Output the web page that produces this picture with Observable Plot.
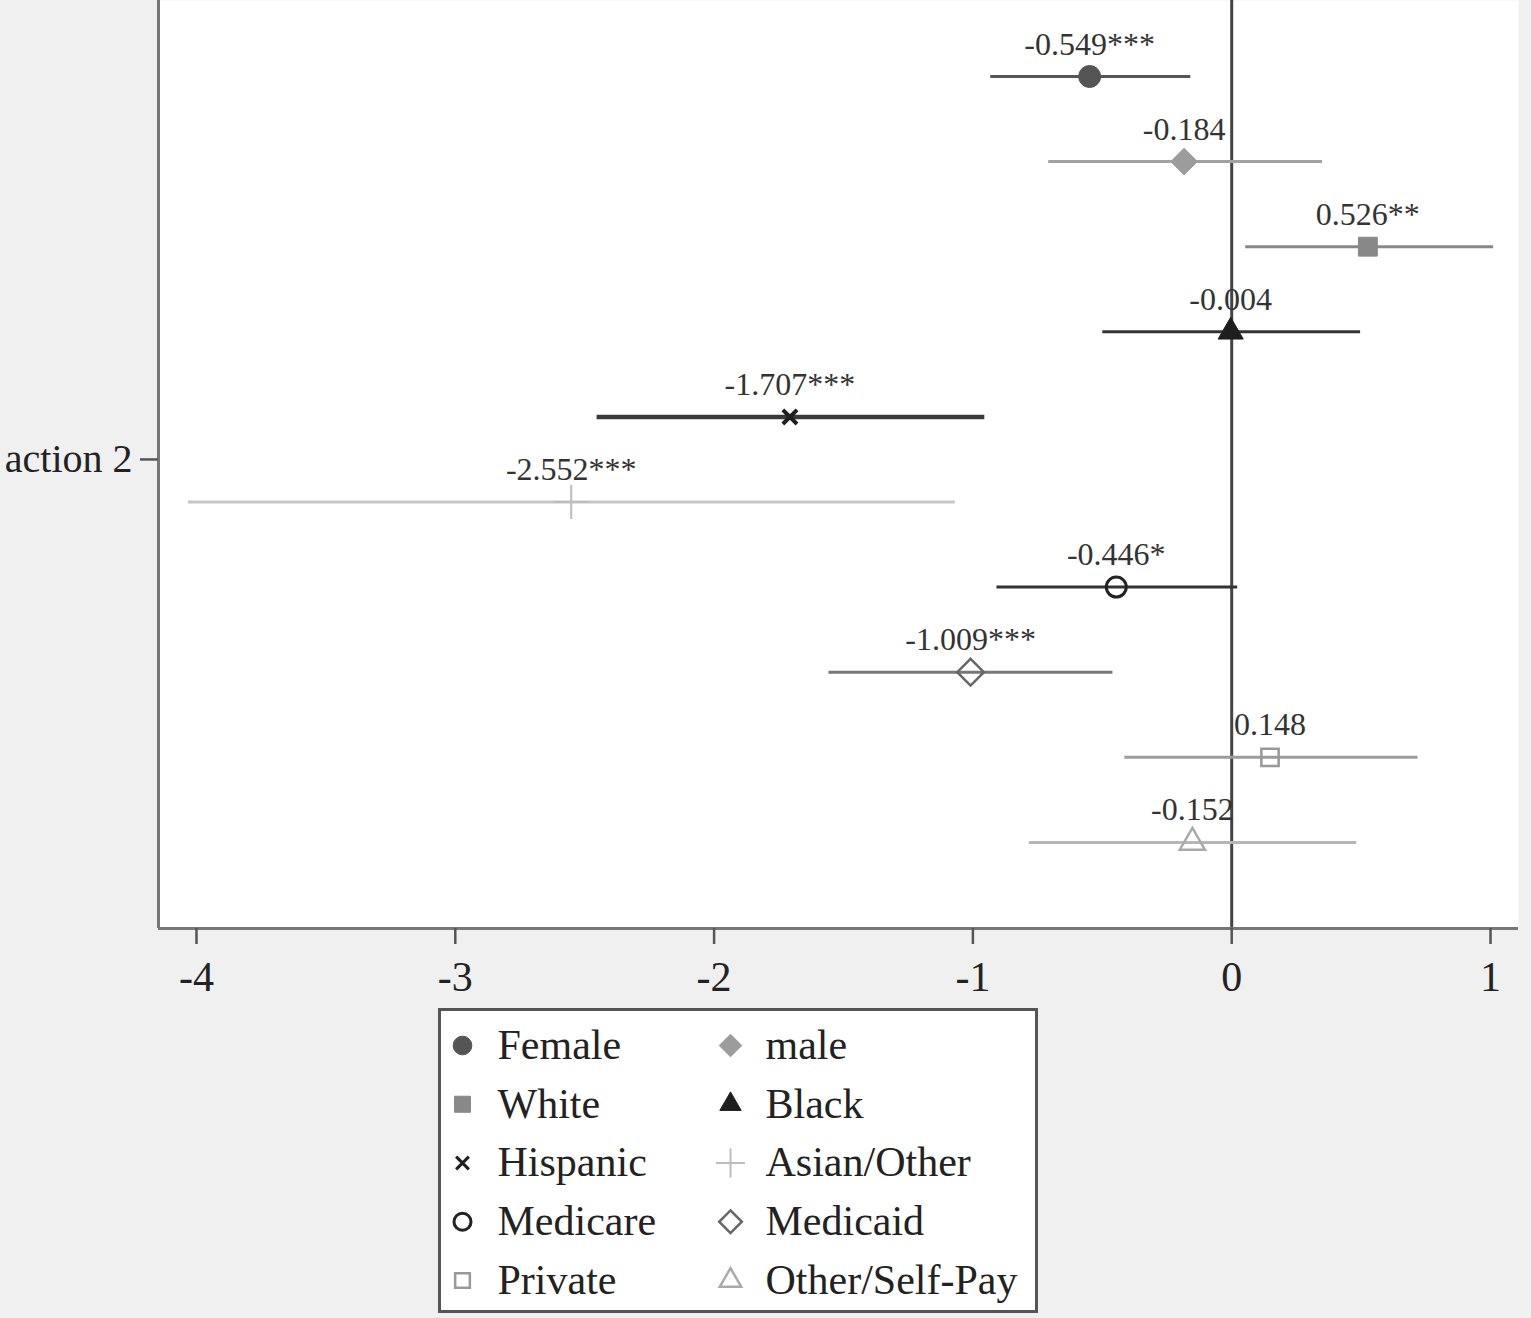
<!DOCTYPE html>
<html>
<head>
<meta charset="utf-8">
<script src="https://cdn.jsdelivr.net/npm/d3@7"></script>
<script src="https://cdn.jsdelivr.net/npm/@observablehq/plot@0.6"></script>
<style>
  html, body { margin: 0; padding: 0; background: #f0f0f0; }
  #wrap { position: relative; width: 1531px; height: 1318px; overflow: hidden; background: #f0f0f0; }
  #chart { position: absolute; left: 0; top: 0; }
  #legend { position: absolute; left: 438px; top: 1008px; width: 600px; height: 305px;
            box-sizing: border-box; border: 3px solid #555; background: #fff; }
  svg { overflow: visible; }
</style>
</head>
<body>
<div id="wrap">
  <div id="chart"></div>
  <div id="legend"></div>
</div>
<script>
// ---- data ----
const labels = ["Female", "male", "White", "Black", "Hispanic", "Asian/Other", "Medicare", "Medicaid", "Private", "Other/Self-Pay"];
const coef   = [-0.549, -0.184, 0.526, -0.004, -1.707, -2.552, -0.446, -1.009, 0.148, -0.152];
const stars  = ["***", "", "**", "", "***", "***", "*", "***", "", ""];
const lo     = [-0.931, -0.707, 0.054, -0.498, -2.452, -4.031, -0.907, -1.556, -0.413, -0.782];
const hi     = [-0.158, 0.351, 1.012, 0.498, -0.954, -1.068, 0.023, -0.459, 0.720, 0.483];
const xTicks = [-4, -3, -2, -1, 0, 1];
const yTickLabel = "action 2"; // as visible in the (cropped) reference

// ---- styles per series ----
const symbols    = ["circle", "diamond2", "square2", "triangle2", "times", "plus", "circle", "diamond2", "square2", "triangle2"];
const fills      = ["#555", "#9c9c9c", "#888", "#1e1e1e", "none", "none", "none", "none", "none", "none"];
const strokes    = ["#555", "#9c9c9c", "#888", "#1e1e1e", "#1e1e1e", "#bdbdbd", "#222", "#666", "#999", "#aaa"];
const dotWidths  = [1, 1, 1, 1, 4, 2, 3, 2.5, 2.5, 2.5];
const sizes      = [11, 12, 12, 12, 6.5, 11, 10, 12, 11, 12];
const lineColors = ["#555", "#a2a2a2", "#888", "#333", "#3a3a3a", "#c6c6c6", "#333", "#777", "#9c9c9c", "#b6b6b6"];
const lineWidths = [3, 3, 3, 3, 4.5, 3, 3, 3, 3, 3];

const rows = labels.map((name, i) => ({
  name, row: i, col: i % 2, lrow: Math.floor(i / 2),
  coef: coef[i], lo: lo[i], hi: hi[i],
  label: coef[i].toFixed(3) + stars[i],
  sym: symbols[i], fill: fills[i], stroke: strokes[i], sw: dotWidths[i],
  size: sizes[i], lsize: sizes[i] * (symbols[i] === "times" ? 0.9 : 0.85),
  lc: lineColors[i], lw: lineWidths[i]
}));

const W = 1531, H = 1005;
const xMin = -4 - 38 / 259, xMax = 1 + 28 / 259;
const yTop = -76 / 85.1, yBottom = (928 - 76) / 85.1;

const chart = Plot.plot({
  width: W, height: H,
  marginLeft: 158, marginRight: 13, marginTop: 0, marginBottom: H - 928,
  style: { fontFamily: "'Liberation Serif', 'Times New Roman', serif", background: "transparent", color: "#222" },
  x: { domain: [xMin, xMax], label: null },
  y: { domain: [yTop, yBottom], range: [0, 928], label: null },
  r: { type: "identity" },
  marks: [
    Plot.frame({ fill: "white", stroke: null }),
    Plot.ruleX([0], { stroke: "#444", strokeWidth: 3 }),
    Plot.ruleY(rows, { y: "row", x1: "lo", x2: "hi", stroke: "lc", strokeWidth: "lw" }),
    Plot.dot(rows, { x: "coef", y: "row", symbol: "sym", r: "size", fill: "fill", stroke: "stroke", strokeWidth: "sw" }),
    Plot.text(rows, { x: "coef", y: "row", text: "label", dy: -22, lineAnchor: "bottom", fontSize: 32, fill: "#333" }),
    Plot.ruleX([xMin], { stroke: "#777", strokeWidth: 3 }),
    Plot.ruleY([yBottom], { stroke: "#777", strokeWidth: 3 }),
    Plot.axisX({ ticks: xTicks, tickFormat: d => String(d), label: null, fontSize: 42, tickSize: 16, tickPadding: 17, stroke: "#555", strokeWidth: 2.5 }),
    Plot.axisY({ ticks: [4.5], tickFormat: () => yTickLabel, label: null, fontSize: 40, tickSize: 18, tickPadding: 8, stroke: "#555", strokeWidth: 2.5 })
  ]
});
document.getElementById("chart").appendChild(chart);

// ---- legend ----
const legend = Plot.plot({
  width: 594, height: 299,
  margin: 0,
  style: { fontFamily: "'Liberation Serif', 'Times New Roman', serif", background: "white", color: "#222" },
  x: { domain: [0, 1], range: [21, 289], axis: null },
  y: { domain: [0, 4], range: [34, 269], axis: null },
  r: { type: "identity" },
  marks: [
    Plot.dot(rows, { x: "col", y: "lrow", symbol: "sym", r: "lsize", fill: "fill", stroke: "stroke", strokeWidth: d => Math.min(d.sw, 3) }),
    Plot.text(rows, { x: "col", y: "lrow", text: "name", dx: 35, textAnchor: "start", fontSize: 42, fill: "#222" })
  ]
});
document.getElementById("legend").appendChild(legend);
</script>
</body>
</html>
